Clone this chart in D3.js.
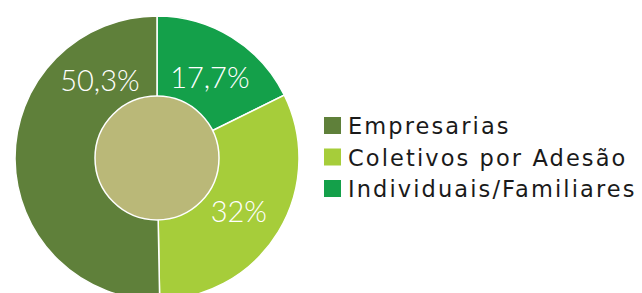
<!DOCTYPE html>
<html>
<head>
<meta charset="utf-8">
<script src="https://cdn.jsdelivr.net/npm/d3@7"></script>
<style>
  body { margin: 0; background: #fff; }
  svg text { font-family: Lato, "Noto Sans", sans-serif; }
  svg text.leg { font-family: "DejaVu Sans", sans-serif; letter-spacing: 2.1px; }
</style>
</head>
<body>
<svg width="642" height="293"></svg>
<script>
// data, in drawing order (clockwise from 12 o'clock)
const categories = ["Individuais/Familiares", "Coletivos por Adesão", "Empresarias"];
const shares = [17.7, 32, 50.3];
const labels = ["17,7%", "32%", "50,3%"];
const legendOrder = ["Empresarias", "Coletivos por Adesão", "Individuais/Familiares"];

const width = 642;
const height = 293;
const cx = 157, cy = 158;
const outerR = 142, innerR = 62;

const color = d3.scaleOrdinal(categories, ["#14a04a", "#a6cd3a", "#5f803a"]);

const svg = d3.select("svg");

const pie = d3.pie().sort(null).value((d, i) => shares[i]);
const arcs = pie(categories);

const arc = d3.arc().innerRadius(0).outerRadius(outerR);

const g = svg.append("g").attr("transform", `translate(${cx},${cy})`);

g.selectAll("path")
  .data(arcs)
  .join("path")
  .attr("d", arc)
  .attr("fill", (d) => color(d.data))
  .attr("stroke", "#fff")
  .attr("stroke-width", 1.5);

// centre disc
g.append("circle")
  .attr("r", innerR)
  .attr("fill", "#bab878")
  .attr("stroke", "#fff")
  .attr("stroke-width", 1.5);

// label placement: big slice label sits upper-left rather than at its mid angle
const labelR = 97;
const labelAngle = (d) => (d.endAngle - d.startAngle > Math.PI ? -0.63 : (d.startAngle + d.endAngle) / 2 + 0.02);

g.selectAll("text.pct")
  .data(arcs)
  .join("text")
  .attr("class", "pct")
  .attr("x", (d) => labelR * Math.sin(labelAngle(d)))
  .attr("y", (d) => -labelR * Math.cos(labelAngle(d)))
  .attr("text-anchor", "middle")
  .attr("dominant-baseline", "central")
  .attr("fill", "#fff")
  .attr("font-size", 29)
  .attr("font-weight", 300)
  .text((d, i) => labels[i]);

// legend
const legend = svg.append("g").attr("transform", "translate(324,117)");
const row = legend.selectAll("g")
  .data(legendOrder)
  .join("g")
  .attr("transform", (d, i) => `translate(0,${i * 31.5})`);

row.append("rect")
  .attr("width", 17)
  .attr("height", 17)
  .attr("fill", (d) => color(d));

row.append("text")
  .attr("class", "leg")
  .attr("x", 24)
  .attr("y", 9)
  .attr("dominant-baseline", "central")
  .attr("font-size", 22.5)
  .attr("fill", "#1a1a1a")
  .text((d) => d);
</script>
</body>
</html>
